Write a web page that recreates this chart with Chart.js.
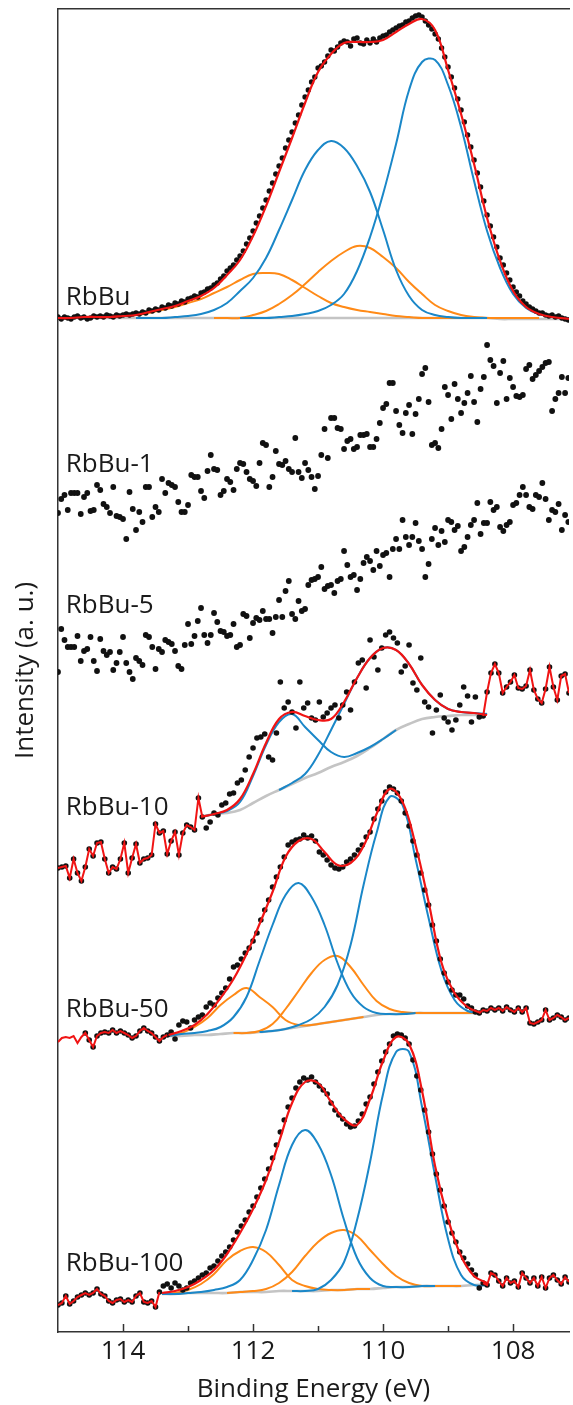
<!DOCTYPE html>
<html>
<head>
<meta charset="utf-8">
<title>Rb 3d XPS</title>
<script src="https://cdn.jsdelivr.net/npm/chart.js@4.4.1/dist/chart.umd.min.js"></script>
<style>
  html, body { margin: 0; padding: 0; background: #fff; }
</style>
</head>
<body>
<canvas id="xps" width="573" height="1405"></canvas>
<script>
// Rb 3d spectra, stacked with offsets. Intensities in a.u. above each panel's offset.

const panelNames = ['RbBu', 'RbBu-1', 'RbBu-5', 'RbBu-10', 'RbBu-50', 'RbBu-100'];
const panelOffsets = [1014, 792, 652, 442, 287, 22];

// measured points start at 115 eV and step down
const scanStart = 115;
const fineStep = 0.05;   // RbBu, RbBu-1, RbBu-5
const coarseStep = 0.06; // RbBu-10, RbBu-50, RbBu-100

// ---- RbBu ----
const rbbuDots = [1,-1,1,0,-1,1,2,0,1,-1, 0,2,1,2,1,3,2,1,3,2, 3,4,3,4,5,4,6,5,8,7, 9,8,11,10,13,12,15,14,17,16,
  19,20,22,21,25,26,29,30,33,35, 39,42,47,50,53,58,62,67,74,80, 87,95,102,110,118,127,135,144,152,160,
  170,178,186,195,203,213,221,228,236,241, 250,252,256,262,268,267,271,275,277,276, 272,279,280,275,274,278,275,279,276,280,
  282,283,286,288,290,292,293,296,297,300, 302,303,301,297,293,289,284,279,270,261, 251,241,230,219,208,196,183,171,158,145,
  131,117,103,92,81,71,60,53,45,38, 31,26,22,17,14,11,9,7,5,5, 3,2,3,1,2,0,-1,-2];
const rbbuFitE = [115.0,114.8,114.6,114.4,114.2,114.0,113.8,113.6,113.4,113.2,113.0,112.8,112.6,112.4,112.2,112.0,111.8,111.6,111.4,111.2,
  111.0,110.8,110.6,110.4,110.2,110.0,109.8,109.6,109.4,109.2,109.0,108.8,108.6,108.4,108.2,108.0,107.8,107.6,107.4,107.1];
const rbbuEnvelope = [0,0,1,1,1,2,3,6,9,12,17,22,30,43,58,82,112,146,180,215,246,264,275,276,276,278,286,294,299,288,248,204,154,100,57,27,11,4,1,-1];
const rbbuBg = [0,0,0,0,0,0,0,0,0,0,0,0,0,0,0,0,0,0,0,0,0,0,0,0,0,0,0,0,0,0,0,0,0,0,-1,-1,-1,-1,-1,-1];
const rbbuBlue1 = [null,null,null,null,null,null,null,null,null,null,null,null,null,null,0,0,0,1,2,4,7,13,24,47,81,124,174,228,256,258,233,191,137,87,50,24,10,4,1,0];
const rbbuBlue2 = [null,null,null,null,null,null,0,0,0,1,2,4,8,15,27,40,60,88,118,148,168,177,170,152,126,88,48,22,8,3,1,0,0,0,null,null,null,null,null,null];
const rbbuOrange1 = [null,null,1,1,1,2,3,5,8,11,15,19,25,31,38,44,45,44,38,30,22,15,11,8,6,4,2,1,0,0,0,0,0,null,null,null,null,null,null,null];
const rbbuOrange2 = [null,null,null,null,null,null,null,null,null,null,null,null,0,0,0,3,7,14,23,34,46,57,66,72,70,61,50,36,24,13,7,3,1,0,0,0,0,0,null,null];

// ---- RbBu-1 and RbBu-5 (points only) ----
const rb1Dots = [27,41,45,30,47,47,47,26,43,47, 29,30,55,50,36,33,27,53,24,23, 21,1,48,31,10,28,18,53,53,23, 33,28,61,47,57,55,53,38,28,28,
  35,65,63,63,49,42,69,85,71,70, 45,49,61,58,50,71,77,76,68,61, 59,54,77,97,95,53,63,89,76,75, 79,71,68,102,68,62,77,70,63,51,
  64,85,111,82,122,122,112,111,91,99, 101,91,93,105,105,106,93,93,101,117, 132,136,157,157,129,115,107,127,135,106,
  126,141,166,172,138,95,97,92,111,153, 145,121,156,141,127,137,147,164,138,118, 151,163,195,180,174,137,167,179,141,162,
  153,144,143,145,171,175,161,165,169,173, 177,178,129,141,147,163,147,162];
const rb5Dots = [8,51,40,33,33,33,44,19,29,31, 43,19,9,41,29,25,28,10,17,28, 43,17,8,1,22,19,15,45,43,33, 11,31,28,40,38,36,29,14,11,35,
  56,36,44,59,72,45,37,45,67,58, 49,48,44,45,56,33,35,66,64,42, 57,62,60,69,61,61,47,63,80,63, 89,99,66,61,79,69,71,95,100,101,
  103,113,91,94,95,87,99,101,129,115, 103,105,90,101,117,123,119,110,129,114, 125,127,103,131,141,131,160,143,135,143,
  157,139,131,103,116,141,152,135,149,138, 160,158,150,154,129,133,143,155,160,177, 146,157,157,178,170,173,153,149,155,158,
  175,177,185,193,185,173,171,185,183,197, 181,160,170,168,176,150,165,158];

// ---- RbBu-10 ----
const rb10Dots = [22,23,24,12,31,17,9,23,41,34,47,48,31,17,23,21,31,47,17,32,46,27,31,32,35,66,57,59,36,49,58,35,57,65,63,60,92,73,
  62,68,77,75,85,87,96,97,107,110,120,133,142,152,153,156,133,130,157,208,182,188,178,162,208,182,187,172,170,188,
  173,177,182,185,172,185,198,180,208,227,230,202,250,233,220,242,255,258,252,247,218,224,245,207,200,232,188,183,157,180,
  195,172,168,160,170,185,203,194,168,193,173,
  174,198,217,226,217,197,203,208,215,202,201,204,220,200,191,187,201,223,203,190,214,216,197];
const rb10Raw = [112.78, 108.46]; // outside this window the red trace joins the raw points
const rb10FitE = [112.8,112.6,112.4,112.2,112.0,111.8,111.6,111.4,111.2,111.0,110.8,110.6,110.4,110.2,110.0,109.8,109.6,109.4,109.2,109.0,108.8,108.6,108.4];
const rb10Envelope = [73,76,80,91,116,147,171,178,174,170,171,188,212,232,242,240,226,205,190,181,178,177,175];
const rb10Bg = [73,76,77,80,87,94,100,106,112,117,123,128,134,142,151,160,166,171,173,174,175,175,176];
const rb10BlueA = [73,76,79,88,114,145,168,176,163,150,138,133,137,143,151,160,null,null,null,null,null,null,null];
const rb10BlueB = [null,null,null,null,null,null,100,107,116,135,160,186,212,232,242,240,226,205,190,181,178,177,176];

// ---- RbBu-50 ----
const rb50Dots = [3,7,8,7,9,2,8,12,5,-2,9,12,13,12,15,12,14,12,10,7,9,14,17,14,12,8,4,8,10,
  13,6,20,24,23,17,25,28,30,38,42,40,47,52,57,66,78,80,86,92,97,104,112,125,135,145,158,168,178,188,
  200,203,205,206,210,207,209,204,193,190,185,180,177,176,178,183,186,190,195,200,208,213,226,236,244,253,258,256,252,244,
  232,219,204,190,172,155,140,120,104,86,72,63,55,50,50,46,39,37,33,
  32,35,34,37,35,37,34,38,35,33,37,33,37,22,21,23,25,35,25,27,30,28,25,27];
const rb50FirstDot = 7; // the leftmost part of this trace is drawn without markers
const rb50Raw = [113.32, 108.52];
const rb50FitE = [113.3,113.1,112.9,112.7,112.5,112.3,112.1,111.9,111.7,111.5,111.3,111.1,110.9,110.7,110.5,110.3,110.1,109.9,109.7,109.5,109.3,109.1,108.9,108.7,108.5];
const rb50Envelope = [10,14,20,31,47,66,91,121,153,188,204,206,193,180,182,199,231,256,243,200,143,82,52,38,32];
const rb50Bg = [9,9,10,10,11,12,12,13,14,16,18,20,22,24,26,28,30,31,31,32,32,32,32,32,32];
const rb50BlueA = [9,11,12,14,18,28,48,84,120,150,162,148,120,82,53,38,32,31,31,32,null,null,null,null,null];
const rb50BlueB = [null,null,null,null,null,null,null,13,14,16,20,26,38,60,100,160,212,248,240,186,127,74,45,34,32];
const rb50OrangeA = [9,12,18,27,40,50,57,48,38,25,20,20,22,24,26,28,null,null,null,null,null,null,null,null,null];
const rb50OrangeB = [null,null,null,null,null,12,12,14,21,36,54,72,85,89,78,60,44,36,33,32,32,32,32,32,32];

// ---- RbBu-100 ----
const rb100Dots = [5,7,14,6,9,13,15,17,15,17,21,16,14,9,7,10,11,8,10,8,14,17,8,7,9,3,18,
  24,26,22,27,24,20,22,27,29,32,35,37,42,44,49,54,58,63,70,78,84,90,98,104,113,122,131,141,152,165,
  178,190,203,212,222,228,232,230,233,228,224,220,216,207,200,195,191,186,183,184,189,196,206,213,226,238,
  249,258,266,274,276,275,272,266,250,234,220,200,178,156,136,120,104,88,77,68,58,52,46,40,35,22,
  27,25,37,35,29,24,32,27,29,23,37,32,27,32,24,33,22,32,35,30,26,33,28];
const rb100Raw = [113.44, 108.46];
const rb100FitE = [113.4,113.2,113.0,112.8,112.6,112.4,112.2,112.0,111.8,111.6,111.4,111.2,111.0,110.8,110.6,110.4,110.2,110.0,109.8,109.6,109.4,109.2,109.0,108.8,108.6,108.4];
const rb100Envelope = [17,19,23,30,40,56,77,101,130,168,207,228,227,208,191,185,211,249,273,266,219,144,91,54,34,27];
const rb100Bg = [16,16,17,17,17,17,18,18,18,19,19,19,19,20,20,21,21,22,23,23,24,24,24,24,25,25];
const rb100BlueA = [16,16,17,18,20,23,30,50,80,125,165,180,166,135,90,52,32,24,23,23,24,24,null,null,null,null];
const rb100BlueB = [null,null,null,null,null,null,null,null,null,null,19,19,21,30,48,90,148,216,258,258,203,134,71,35,25,25];
const rb100OrangeA = [16,17,20,26,36,50,59,63,58,45,30,24,21,20,20,21,21,null,null,null,null,null,null,null,null,null];
const rb100OrangeB = [null,null,null,null,null,17,18,19,21,27,38,54,68,77,80,74,60,46,34,27,24,24,24,24,null,null];

// x range and label placement
const xMin = 107.14, xMax = 115;
const labelEnergy = 114.88;
const labelBaselines = [1027, 860, 719, 517, 315, 61];

const RED = '#f01414', BLUE = '#1a87c8', ORANGE = '#ff8a17', GREY = '#c4c4c4', DOT = '#111111', AXIS = '#333333', TEXT = '#1a1a1a';
const FONT = "'Open Sans', sans-serif";

// helpers
const energies = (step, n) => Array.from({ length: n }, (_, i) => Math.round((scanStart - i * step) * 1000) / 1000);
const toPoints = (es, vals, off) => vals.map((v, i) => ({ x: es[i], y: v === null ? null : v + off }));
const rawOnly = (es, vals, win) => vals.map((v, i) => (es[i] >= win[0] - 1e-6 || es[i] <= win[1] + 1e-6) ? v : null);

const datasets = [];
function addDots(es, vals, off, r) {
    datasets.push({
        data: toPoints(es, vals, off), showLine: false, order: 2,
        pointRadius: r, pointBackgroundColor: DOT, pointBorderColor: DOT, pointBorderWidth: 0
    });
}
function addCurve(es, vals, off, color, width, order, smooth) {
    datasets.push({
        data: toPoints(es, vals, off), borderColor: color, borderWidth: width, order,
        pointRadius: 0, fill: false, spanGaps: false, tension: smooth ? 0.4 : 0
    });
}
function addFit(es, env, bg, blues, oranges, off) {
    addCurve(es, env, off, RED, 2.2, 1, true);
    blues.forEach(b => addCurve(es, b, off, BLUE, 2, 3, true));
    oranges.forEach(o => addCurve(es, o, off, ORANGE, 2, 4, true));
    addCurve(es, bg, off, GREY, 2.6, 5, true);
}

addDots(energies(fineStep, rbbuDots.length), rbbuDots, panelOffsets[0], 2.7);
addFit(rbbuFitE, rbbuEnvelope, rbbuBg, [rbbuBlue1, rbbuBlue2], [rbbuOrange1, rbbuOrange2], panelOffsets[0]);

addDots(energies(fineStep, rb1Dots.length), rb1Dots, panelOffsets[1], 2.9);
addDots(energies(fineStep, rb5Dots.length), rb5Dots, panelOffsets[2], 2.9);

const e10 = energies(coarseStep, rb10Dots.length);
addDots(e10, rb10Dots, panelOffsets[3], 2.8);
addCurve(e10, rawOnly(e10, rb10Dots, rb10Raw), panelOffsets[3], RED, 2, 1, false);
addFit(rb10FitE, rb10Envelope, rb10Bg, [rb10BlueA, rb10BlueB], [], panelOffsets[3]);

const e50 = energies(coarseStep, rb50Dots.length);
addDots(e50, rb50Dots.map((v, i) => i < rb50FirstDot ? null : v), panelOffsets[4], 2.8);
addCurve(e50, rawOnly(e50, rb50Dots, rb50Raw), panelOffsets[4], RED, 2, 1, false);
addFit(rb50FitE, rb50Envelope, rb50Bg, [rb50BlueA, rb50BlueB], [rb50OrangeA, rb50OrangeB], panelOffsets[4]);

const e100 = energies(coarseStep, rb100Dots.length);
addDots(e100, rb100Dots, panelOffsets[5], 2.8);
addCurve(e100, rawOnly(e100, rb100Dots, rb100Raw), panelOffsets[5], RED, 2, 1, false);
addFit(rb100FitE, rb100Envelope, rb100Bg, [rb100BlueA, rb100BlueB], [rb100OrangeA, rb100OrangeB], panelOffsets[5]);

datasets.forEach(d => { d.xAxisID = 'x'; d.yAxisID = 'y'; });

// inward tick marks on the energy axis, long on even eV, short on odd
const tickMarks = {
    id: 'tickMarks',
    afterDraw(chart) {
        const xs = chart.scales.x, { ctx, chartArea } = chart;
        ctx.save();
        ctx.strokeStyle = AXIS;
        ctx.lineWidth = 1.5;
        xs.ticks.forEach(t => {
            const v = t.value;
            if (!Number.isInteger(v) || v >= xMax) return;
            const px = Math.round(xs.getPixelForValue(v)) + 0.5;
            const len = v % 2 === 0 ? 8 : 6;
            ctx.beginPath();
            ctx.moveTo(px, chartArea.bottom);
            ctx.lineTo(px, chartArea.bottom - len);
            ctx.stroke();
        });
        ctx.restore();
    }
};

// sample names at the left of each trace
const panelLabels = {
    id: 'panelLabels',
    afterDatasetsDraw(chart) {
        const { ctx, scales: { x, y } } = chart;
        ctx.save();
        ctx.font = '26px ' + FONT;
        ctx.fillStyle = TEXT;
        ctx.textAlign = 'left';
        ctx.textBaseline = 'alphabetic';
        panelNames.forEach((name, i) => {
            ctx.fillText(name, x.getPixelForValue(labelEnergy), y.getPixelForValue(labelBaselines[i]));
        });
        ctx.restore();
    }
};

Chart.defaults.font.family = FONT;

new Chart(document.getElementById('xps'), {
    type: 'line',
    data: { datasets },
    options: {
        responsive: false,
        animation: false,
        events: [],
        layout: { padding: 0 },
        plugins: { legend: { display: false }, tooltip: { enabled: false } },
        scales: {
            x: {
                type: 'linear', position: 'bottom', reverse: true, min: xMin, max: xMax,
                grid: { display: false, drawTicks: false },
                border: { display: true, color: AXIS, width: 1.5 },
                ticks: {
                    stepSize: 1, includeBounds: false, autoSkip: false, maxRotation: 0, padding: 4, color: TEXT, font: { size: 26 },
                    callback: v => (Number.isInteger(v) && v % 2 === 0) ? String(v) : ''
                },
                title: { display: true, text: 'Binding Energy (eV)', color: TEXT, font: { size: 26 }, padding: { top: 0, bottom: 0 } },
                afterFit: s => { s.height = 73; }
            },
            xTop: {
                type: 'linear', position: 'top', reverse: true, min: xMin, max: xMax,
                grid: { display: false, drawTicks: false },
                border: { display: true, color: AXIS, width: 1.5 },
                ticks: { display: false },
                afterFit: s => { s.height = 9; }
            },
            y: {
                type: 'linear', position: 'left', min: 0, max: 1323,
                grid: { display: false, drawTicks: false },
                border: { display: true, color: AXIS, width: 1.5 },
                ticks: { display: false },
                title: { display: true, text: 'Intensity (a. u.)', color: TEXT, font: { size: 26 }, padding: { top: 10, bottom: 0 } },
                afterFit: s => { s.width = 58; }
            }
        }
    },
    plugins: [tickMarks, panelLabels]
});
</script>
</body>
</html>
